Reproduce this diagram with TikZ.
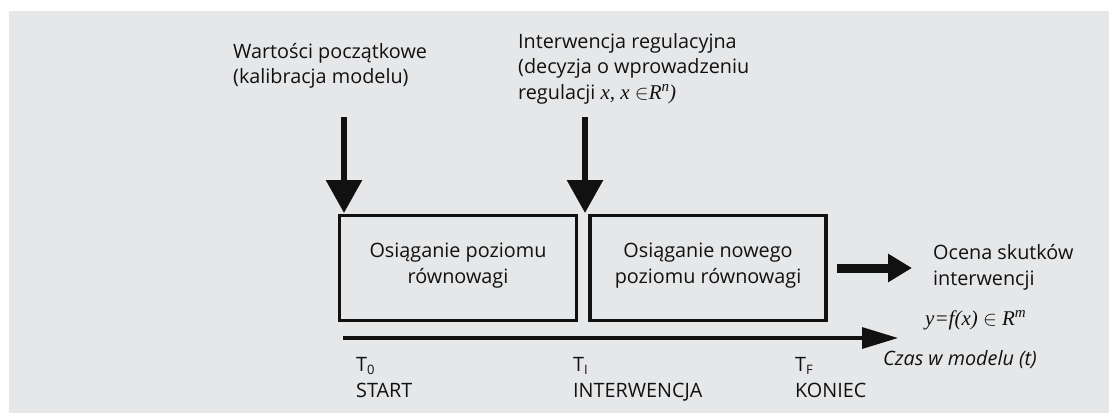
\documentclass[tikz,border=0pt]{standalone}
\usepackage{fontspec}
\setmainfont{Open Sans}
\newfontfamily\tms{Liberation Serif}
\usetikzlibrary{arrows.meta}
\definecolor{panel}{HTML}{E6E7E9}
\definecolor{ink}{HTML}{111111}
\newcommand{\supit}[1]{\raisebox{0.8ex}{\fontsize{15}{15}\selectfont\tms\itshape #1}}
\newcommand{\subup}[1]{\raisebox{-0.35ex}{\fontsize{13}{13}\selectfont #1}}
\begin{document}
\begin{tikzpicture}[x=1pt,y=-1pt,
  txt/.style={inner sep=0pt, text=ink, font=\fontsize{19.8}{25}\selectfont},
  lft/.style={txt, anchor=base west},
  ctr/.style={txt, anchor=base},
  mathit/.style={font=\fontsize{21}{25}\selectfont\tms\itshape},
  stage/.style={draw=ink, line width=3.2pt, inner sep=0pt},
  drop/.style={draw=ink, line width=6pt, -{Triangle[width=35pt,length=33pt]}},
  result/.style={draw=ink, line width=9pt, -{Triangle[width=27pt,length=24pt]}},
  timeaxis/.style={draw=ink, line width=3.2pt, -{Triangle[width=21pt,length=36pt]}}]
\useasboundingbox (0,0) rectangle (1109,413);
\fill[panel] (9,11) rectangle (1109,413);

% stages of the simulation
\node[stage, minimum width=236.5pt, minimum height=105.5pt] (b1) at (458,268) {};
\node[stage, minimum width=236pt, minimum height=105.5pt] (b2) at (708,268) {};
\node[ctr] (b1a) at (458,257) {Osiąganie poziomu};
\node[ctr] (b1b) at (458,283) {równowagi};
\node[ctr] (b2a) at (708,257) {Osiąganie nowego};
\node[ctr] (b2b) at (708,283) {poziomu równowagi};

% inputs from above
\node[lft] (w1) at (233,58) {Wartości początkowe};
\node[lft] (w2) at (233,83) {(kalibracja modelu)};
\node[lft] (i1) at (518,48) {Interwencja regulacyjna};
\node[lft] (i2) at (518,73) {(decyzja o wprowadzeniu};
\node[lft] (i3) at (518,99) {regulacji {\fontsize{21}{25}\selectfont\tms\itshape x, x $\in$R\supit{n})}};

\coordinate (s1) at (344,117);
\coordinate (t1) at (344,213);
\coordinate (s2) at (585,117);
\coordinate (t2) at (585,213);
\draw[drop] (s1) -- (t1);
\draw[drop] (s2) -- (t2);

% output
\node[lft] (o1) at (933,259) {Ocena skutków};
\node[lft] (o2) at (933,285) {interwencji};
\node[lft, mathit] (o3) at (925,325) {y=f(x) $\in$ R\supit{m}};
\coordinate (r1) at (912,268);
\draw[result, shorten <=9pt] (b2.east) -- (r1);

% time axis
\coordinate (a0) at (343,338);
\coordinate (a1) at (898,338);
\draw[timeaxis] (a0) -- (a1);
\node[lft] (ax) at (883,365) {\itshape Czas w modelu (t)};

\node[lft] (p0) at (356,371) {T\subup{0}};
\node[lft] (q0) at (356,397) {START};
\node[lft] (p1) at (573,371) {T\subup{I}};
\node[lft] (q1) at (573,397) {INTERWENCJA};
\node[lft] (p2) at (795,371) {T\subup{F}};
\node[lft] (q2) at (795,397) {KONIEC};
\end{tikzpicture}
\end{document}
